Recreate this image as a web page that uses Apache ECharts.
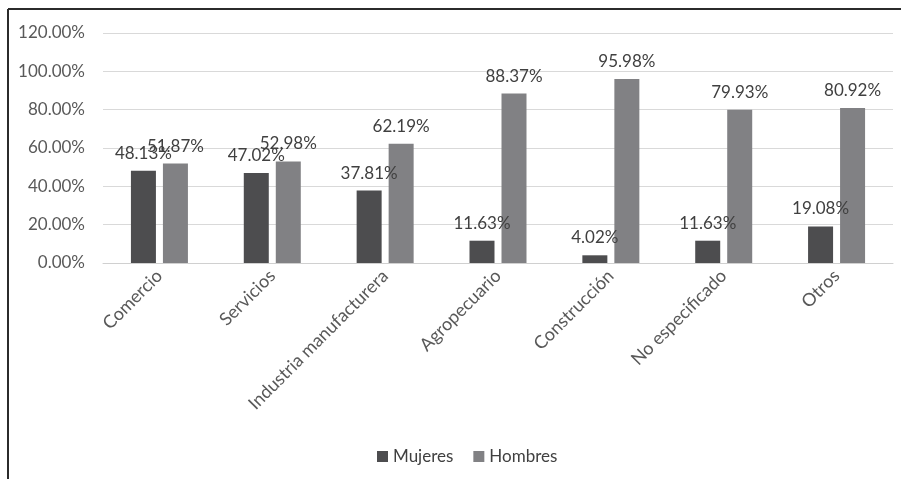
<!DOCTYPE html>
<html>
<head>
<meta charset="utf-8">
<script src="https://cdn.jsdelivr.net/npm/echarts@6/dist/echarts.min.js"></script>
<style>
  html, body { margin: 0; padding: 0; background: #fff; }
  #main { width: 901px; height: 479px; }
</style>
</head>
<body>
<div id="main"></div>
<script>
"use strict"
var categories = ['Comercio', 'Servicios', 'Industria manufacturera', 'Agropecuario', 'Construcción', 'No especificado', 'Otros'];
var mujeres = [48.13, 47.02, 37.81, 11.63, 4.02, 11.63, 19.08];
var hombres = [51.87, 52.98, 62.19, 88.37, 95.98, 79.93, 80.92];

var myChart = echarts.init(document.getElementById('main'));
var font = 'Lato, "Open Sans", sans-serif';

var option = {
  animation: false,
  backgroundColor: '#fff',
  textStyle: { fontFamily: font },
  graphic: [
    // frame of the scanned figure (top and left edges only are visible)
    { type: 'line', shape: { x1: 8, y1: 9, x2: 901, y2: 9 }, style: { stroke: '#2b2b2b', lineWidth: 2 } },
    { type: 'line', shape: { x1: 8, y1: 9, x2: 8, y2: 479 }, style: { stroke: '#2b2b2b', lineWidth: 2 } }
  ],
  grid: { left: 103, right: 8, top: 33, bottom: 216, containLabel: false },
  legend: {
    data: ['Mujeres', 'Hombres'],
    bottom: 9,
    left: 372,
    itemWidth: 11,
    itemHeight: 11,
    itemGap: 20,
    textStyle: { fontSize: 17, color: '#404040', fontFamily: font },
    icon: 'rect'
  },
  xAxis: {
    type: 'category',
    data: categories,
    axisLine: { lineStyle: { color: '#d0d0d0' } },
    axisTick: { show: false },
    axisLabel: { rotate: 45, fontSize: 18, color: '#595959', margin: 10, interval: 0, fontFamily: font }
  },
  yAxis: {
    type: 'value',
    min: 0,
    max: 120,
    interval: 20,
    axisLine: { show: false },
    axisTick: { show: false },
    splitLine: { lineStyle: { color: '#d9d9d9' } },
    axisLabel: {
      fontSize: 17, color: '#595959', margin: 18, fontFamily: font,
      formatter: function (v) { return v.toFixed(2) + '%'; }
    }
  },
  series: [
    {
      name: 'Mujeres',
      type: 'bar',
      data: mujeres,
      barWidth: 25,
      barGap: '28%',
      itemStyle: { color: '#4d4d4f' },
      label: {
        show: true, position: 'top', distance: 9, fontSize: 17, color: '#404040', fontFamily: font,
        formatter: function (p) { return p.value.toFixed(2) + '%'; }
      }
    },
    {
      name: 'Hombres',
      type: 'bar',
      data: hombres,
      barWidth: 25,
      itemStyle: { color: '#818184' },
      label: {
        show: true, position: 'top', distance: 9, fontSize: 17, color: '#404040', fontFamily: font,
        formatter: function (p) { return p.value.toFixed(2) + '%'; }
      }
    }
  ]
};

if (option && typeof option === "object") {
  myChart.setOption(option, true);
}
</script>
</body>
</html>
